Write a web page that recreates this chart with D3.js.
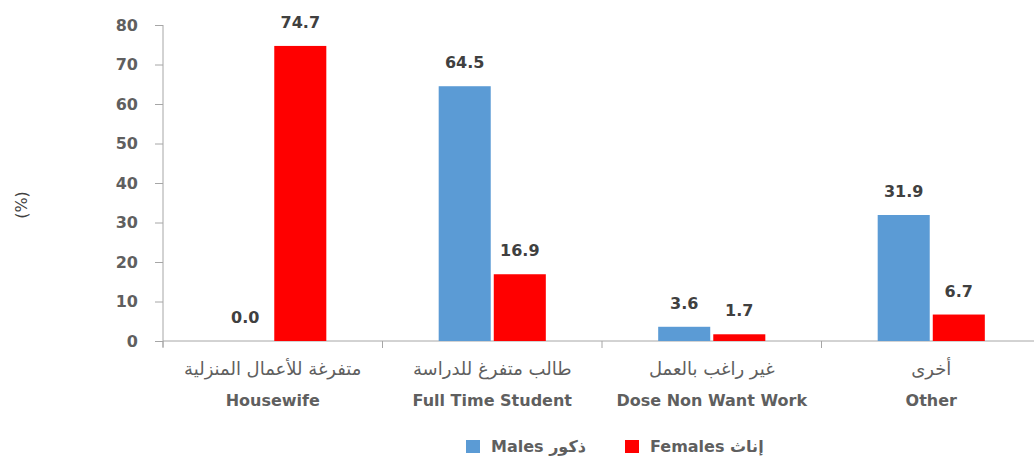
<!DOCTYPE html>
<html>
<head>
<meta charset="utf-8">
<script src="https://cdn.jsdelivr.net/npm/d3@7"></script>
<style>
  html, body { margin: 0; padding: 0; background: #fff; }
  svg text { font-family: "DejaVu Sans", sans-serif; }
</style>
</head>
<body>
<svg id="chart" width="1034" height="456"></svg>
<script>
const categoriesAr = ["متفرغة للأعمال المنزلية", "طالب متفرغ للدراسة", "غير راغب بالعمل", "أخرى"];
const categoriesEn = ["Housewife", "Full Time Student", "Dose Non Want Work", "Other"];
const males = [0.0, 64.5, 3.6, 31.9];
const females = [74.7, 16.9, 1.7, 6.7];
const yTicks = [0, 10, 20, 30, 40, 50, 60, 70, 80];
const seriesNames = ["Males ذكور", "Females إناث"];
const seriesColors = ["#5b9bd5", "#ff0000"];

const svg = d3.select("#chart");
const mLeft = 163, mRight = 1041, mTop = 25, mBottom = 341;

const x0 = d3.scaleBand().domain(d3.range(categoriesEn.length)).range([mLeft, mRight]).paddingInner(0).paddingOuter(0);
const x1 = d3.scaleBand().domain([0, 1]).range([0, x0.bandwidth()]).paddingInner(0.055).paddingOuter(1.02);
const y = d3.scaleLinear().domain([0, 80]).range([mBottom, mTop]);

const axisColor = "#a6a6a6";
const textColor = "#5f5f5f";

// Y axis
const yAxis = svg.append("g").attr("transform", `translate(${mLeft},0)`)
  .call(d3.axisLeft(y).tickValues(yTicks).tickSize(8).tickPadding(17).tickFormat(d3.format("d")));
yAxis.select(".domain").attr("stroke", axisColor).attr("d", `M0,${mTop}V${mBottom + 6}`);
yAxis.selectAll(".tick line").attr("stroke", axisColor);
yAxis.selectAll(".tick text").attr("fill", textColor).style("font-size", "16px")
  .style("font-weight", "bold").style("font-family", "'DejaVu Sans', sans-serif");

// X axis
const xAxis = svg.append("g").attr("transform", `translate(0,${mBottom})`)
  .call(d3.axisBottom(x0).tickValues([]).tickSize(0));
xAxis.select(".domain").attr("stroke", axisColor).attr("d", `M${mLeft},0H${mRight}`);
const boundaries = d3.range(categoriesEn.length + 1).map(i => mLeft + i * x0.step());
xAxis.selectAll(".bnd").data(boundaries).enter().append("line")
  .attr("x1", d => d).attr("x2", d => d).attr("y1", 0).attr("y2", 7)
  .attr("stroke", axisColor);

// Bars
const data = categoriesEn.map((c, i) => [males[i], females[i]]);
const groups = svg.append("g").selectAll("g").data(data).enter().append("g")
  .attr("transform", (d, i) => `translate(${x0(i)},0)`);
groups.selectAll("rect").data(d => d).enter().append("rect")
  .attr("x", (d, j) => x1(j))
  .attr("width", x1.bandwidth())
  .attr("y", d => y(d))
  .attr("height", d => y(0) - y(d))
  .attr("fill", (d, j) => seriesColors[j]);
groups.selectAll("text").data(d => d).enter().append("text")
  .attr("x", (d, j) => x1(j) + x1.bandwidth() / 2)
  .attr("y", d => y(d) - 18)
  .attr("text-anchor", "middle")
  .attr("fill", "#404040")
  .style("font-size", "16px")
  .style("font-weight", "bold")
  .text(d => d.toFixed(1));

// Category labels
const lab = svg.append("g");
lab.selectAll(".ar").data(categoriesAr).enter().append("text")
  .attr("x", (d, i) => x0(i) + x0.bandwidth() / 2)
  .attr("y", 375)
  .attr("text-anchor", "middle")
  .attr("fill", textColor)
  .style("font-size", "18px")
  .text(d => d);
lab.selectAll(".en").data(categoriesEn).enter().append("text")
  .attr("x", (d, i) => x0(i) + x0.bandwidth() / 2)
  .attr("y", 406)
  .attr("text-anchor", "middle")
  .attr("fill", textColor)
  .style("font-size", "16px")
  .style("font-weight", "bold")
  .text(d => d);

// Y label
svg.append("text")
  .attr("transform", "translate(27,205) rotate(-90)")
  .attr("text-anchor", "middle")
  .attr("fill", "#404040")
  .style("font-size", "16px")
  .text("(%)");

// Legend
const legendX = [466, 625];
const lg = svg.append("g").selectAll("g").data(seriesNames).enter().append("g")
  .attr("transform", (d, i) => `translate(${legendX[i]},440)`);
lg.append("rect").attr("width", 14).attr("height", 13).attr("fill", (d, i) => seriesColors[i]);
lg.append("text").attr("x", 25).attr("y", 12)
  .attr("fill", textColor)
  .style("font-size", "16px")
  .style("font-weight", "bold")
  .style("direction", "ltr")
  .style("unicode-bidi", "plaintext")
  .text(d => d);
</script>
</body>
</html>
